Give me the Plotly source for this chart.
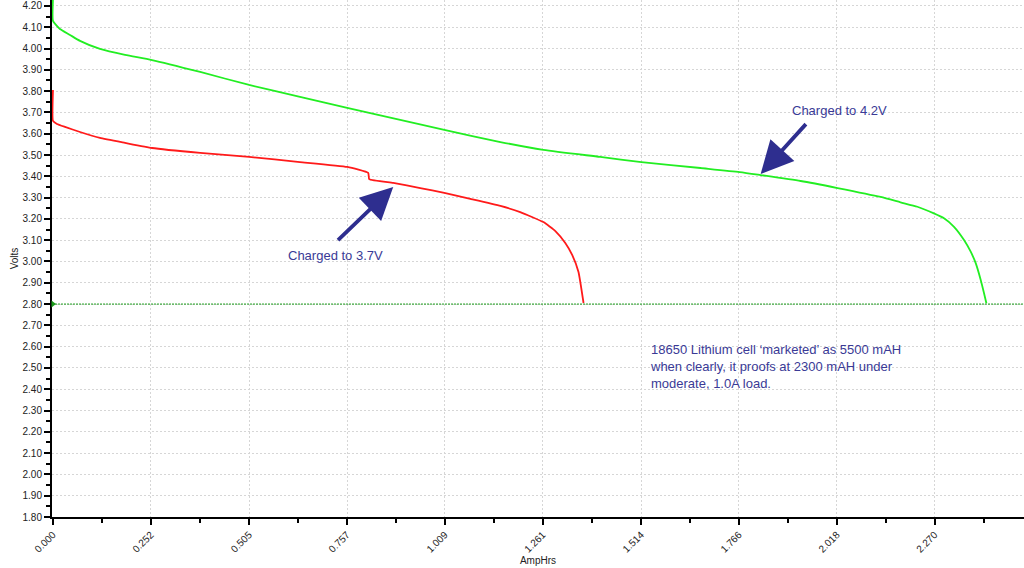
import plotly.graph_objects as go

# ---- data ----
green_ah = [0.0, 0.0, 0.0077, 0.018, 0.0438, 0.0696, 0.121, 0.1855, 0.255, 0.379, 0.505,
            0.636, 0.7575, 0.894, 1.0075, 1.152, 1.2626, 1.409, 1.515, 1.667, 1.768,
            1.822, 1.925, 2.020, 2.131, 2.182, 2.2255, 2.268, 2.294, 2.3198, 2.3456,
            2.3628, 2.3757, 2.3886, 2.3971, 2.4032]
green_v = [4.23, 4.13, 4.111, 4.092, 4.064, 4.036, 3.998, 3.970, 3.946, 3.890, 3.829,
           3.773, 3.721, 3.665, 3.618, 3.561, 3.524, 3.491, 3.467, 3.439, 3.420,
           3.406, 3.378, 3.345, 3.303, 3.278, 3.257, 3.226, 3.203, 3.163, 3.101,
           3.046, 2.992, 2.913, 2.851, 2.804]

red_ah = [0.0, 0.0, 0.0103, 0.031, 0.0696, 0.121, 0.1855, 0.255, 0.379, 0.505, 0.636,
          0.7575, 0.8116, 0.8142, 0.876, 0.9456, 1.0075, 1.0745, 1.152, 1.203, 1.2626,
          1.2935, 1.319, 1.337, 1.353, 1.366]
red_v = [3.805, 3.66, 3.646, 3.632, 3.608, 3.580, 3.557, 3.533, 3.510, 3.491, 3.467,
         3.444, 3.416, 3.387, 3.369, 3.345, 3.322, 3.294, 3.261, 3.232, 3.185,
         3.143, 3.087, 3.030, 2.951, 2.805]

cutoff_v = 2.80

x_tick_labels = ["0.000", "0.252", "0.505", "0.757", "1.009", "1.261",
                 "1.514", "1.766", "2.018", "2.270"]
x_tick_vals = [float(t) for t in x_tick_labels]

note_text = ("18650 Lithium cell \u2018marketed\u2019 as 5500 mAH<br>"
             "when clearly, it proofs at 2300 mAH under<br>"
             "moderate, 1.0A load.")

NAVY = "#2e2e8f"
TXT = "#3a3a96"
FONT = "Liberation Sans, Arial"
GRID = "#d6d6d6"

fig = go.Figure()
fig.add_trace(go.Scatter(x=green_ah, y=green_v, mode="lines",
                         line=dict(color="#22ee22", width=1.8, shape="spline", smoothing=0.6),
                         showlegend=False))
fig.add_trace(go.Scatter(x=red_ah, y=red_v, mode="lines",
                         line=dict(color="#ff1a1a", width=1.8, shape="spline", smoothing=0.4),
                         showlegend=False))
fig.add_trace(go.Scatter(x=[0], y=[cutoff_v], mode="markers", cliponaxis=False,
                         marker=dict(symbol="triangle-right", size=6, color="#1a9a1a"),
                         showlegend=False))

fig.add_shape(type="line", xref="paper", x0=0, x1=1, yref="y", y0=cutoff_v, y1=cutoff_v,
              line=dict(color="#1a9a1a", width=1, dash="2px,1px"), layer="above")

anns = [
    dict(x=1.942, y=3.652, ax=1.822, ay=3.411),
    dict(x=0.730, y=3.094, ax=0.876, ay=3.350),
]
for a in anns:
    fig.add_annotation(x=a["ax"], y=a["ay"], ax=a["x"], ay=a["y"], xref="x", yref="y",
                       axref="x", ayref="y", text="", showarrow=True, arrowhead=2,
                       arrowsize=1.7, arrowwidth=3.8, arrowcolor=NAVY, standoff=0)

fig.add_annotation(x=1.898, y=3.708, xref="x", yref="y", text="Charged to 4.2V",
                   showarrow=False, xanchor="left", yanchor="middle",
                   font=dict(family=FONT, size=13, color=TXT))
fig.add_annotation(x=0.600, y=3.030, xref="x", yref="y", text="Charged to 3.7V",
                   showarrow=False, xanchor="left", yanchor="middle",
                   font=dict(family=FONT, size=13, color=TXT))
fig.add_annotation(x=1.532, y=2.630, xref="x", yref="y", text=note_text,
                   showarrow=False, xanchor="left", yanchor="top", align="left",
                   font=dict(family=FONT, size=13, color=TXT))

fig.update_layout(
    width=1024, height=568,
    margin=dict(l=52, r=0, t=0, b=51),
    paper_bgcolor="white", plot_bgcolor="white",
    font=dict(family=FONT, size=10, color="#222222"),
)
fig.update_xaxes(
    range=[-0.0025, 2.5], tickmode="array", tickvals=x_tick_vals, ticktext=x_tick_labels,
    tickangle=-45, ticks="outside", ticklen=6, tickwidth=1.5, tickcolor="black",
    showline=True, linecolor="black", linewidth=2, layer="below traces",
    showgrid=True, gridcolor=GRID, griddash="2px,2px", gridwidth=1, zeroline=False,
    minor=dict(ticks="outside", ticklen=4, tickcolor="black", tick0=0,
               dtick=0.126135, showgrid=False),
    title=dict(text="AmpHrs", font=dict(size=10), standoff=3),
)
fig.update_yaxes(
    range=[1.8, 4.228], tick0=1.8, dtick=0.1, tickformat=".2f",
    ticks="outside", ticklen=6, tickwidth=1.5, tickcolor="black",
    showline=True, linecolor="black", linewidth=2, layer="below traces",
    showgrid=True, gridcolor=GRID, griddash="2px,2px", gridwidth=1, zeroline=False,
    minor=dict(ticks="outside", ticklen=4, tickcolor="black", tick0=1.8,
               dtick=0.05, showgrid=False),
    title=dict(text="Volts", font=dict(size=10), standoff=2),
)

fig.write_html("out.html", post_script="document.body.style.margin='0';",
               config={"displayModeBar": False})
